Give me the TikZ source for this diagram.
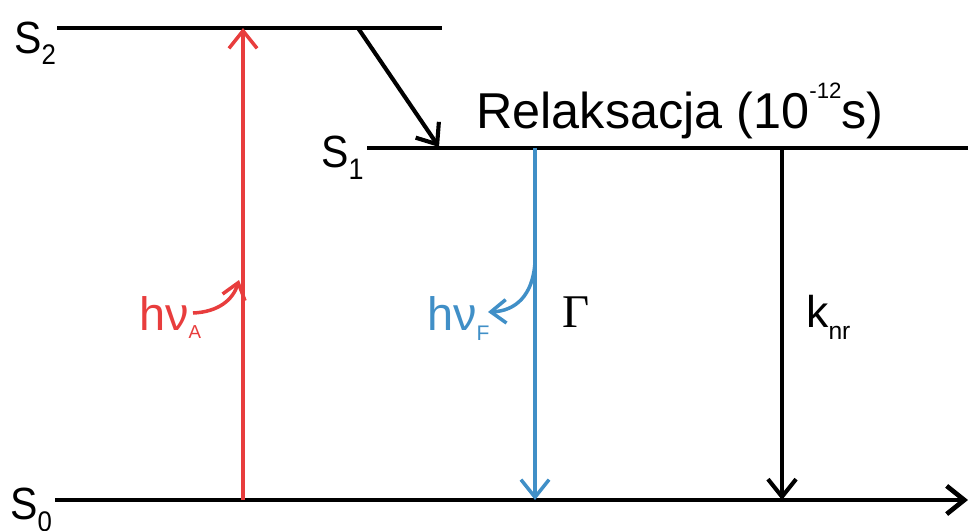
\documentclass[tikz,border=0pt]{standalone}
\usepackage{fontspec}
\setmainfont{Liberation Sans}
\newfontfamily\timesfont{Liberation Serif}
\usepackage{xcolor}
\definecolor{absred}{rgb}{0.91,0.24,0.24}
\definecolor{fluoblue}{rgb}{0.25,0.56,0.78}
\usetikzlibrary{arrows.meta,positioning}
\newcommand{\fs}[1]{\fontsize{#1}{#1}\selectfont}
\newcommand{\lowsub}[3]{\raisebox{-#2pt}{\fs{#1}#3}}
\tikzset{
	level/.style={line width=4pt, black},
	trans/.style={
		line width=3pt,
		-{Straight Barb[length=15pt,width=24pt]}
	},
	photon/.style={
		line width=3pt,
		-{Straight Barb[length=13pt,width=20pt]}
	},
	lbl/.style={anchor=base west, inner sep=0pt},
	statelbl/.style={lbl, yscale=1.1, transform shape}
}
\begin{document}
\begin{tikzpicture}[x=0.03cm,y=-0.03cm]
	\useasboundingbox (0,0) rectangle (968,531);
	% energy levels
	\coordinate (s2a) at (57,28);
	\coordinate (s2b) at (442,28);
	\coordinate (s1a) at (367,148);
	\coordinate (s1b) at (968,148);
	\coordinate (s0a) at (55,500);
	\coordinate (s0b) at (968,500);
	\draw[level] (s2a) -- (s2b);
	\draw[level] (s1a) -- (s1b);
	\draw[level, -{Straight Barb[length=15pt,width=24pt]}] (s0a) -- (s0b);
	\node[statelbl] (S2) at (14,53) {\fs{35}S\lowsub{22}{9}{2}};
	\node[statelbl] (S1) at (321,167) {\fs{35}S\lowsub{23}{10}{1}};
	\node[statelbl] (S0) at (10,519) {\fs{35}S\lowsub{22}{10}{0}};
	% transitions
	\coordinate (abs0) at (243,500);
	\coordinate (abs2) at (243,28);
	\coordinate (rel2) at (358,28);
	\coordinate (rel1) at (439,147);
	\coordinate (fl1) at (535,148);
	\coordinate (fl0) at (535,500);
	\coordinate (nr1) at (782,148);
	\coordinate (nr0) at (782,500);
	\draw[trans, absred] (abs0) -- (abs2);
	\draw[trans, black, line width=3.5pt] (rel2) -- (rel1);
	\draw[trans, fluoblue] (fl1) -- (fl0);
	\draw[trans, black, line width=3.5pt] (nr1) -- (nr0);
	\node[lbl] (relax) at (476,128) {\fs{43}Relaksacja (10\raisebox{25pt}{\fs{19}-12}s)};
	% photons
	\node[lbl, text=absred] (hvA) at (139,330) {\fs{40}hν\lowsub{16}{7}{A}};
	\node[lbl, text=fluoblue] (hvF) at (427,330) {\fs{40}hν\lowsub{18}{9}{F}};
	\coordinate (pA) at (193,313);
	\coordinate (pAtip) at (239,280);
	\coordinate (pF) at (535,262);
	\coordinate (pFtip) at (488,312);
	\draw[photon, absred] (pA) .. controls (218,312) and (233,300) .. (pAtip);
	\draw[photon, fluoblue] (pF) .. controls (533,296) and (515,311) .. (pFtip);
	\node[lbl] (gamma) at (562,327) {\fs{40}\timesfont Γ};
	\node[lbl] (knr) at (806,327) {\fs{38}k\lowsub{21}{11}{nr}};
\end{tikzpicture}
\end{document}
